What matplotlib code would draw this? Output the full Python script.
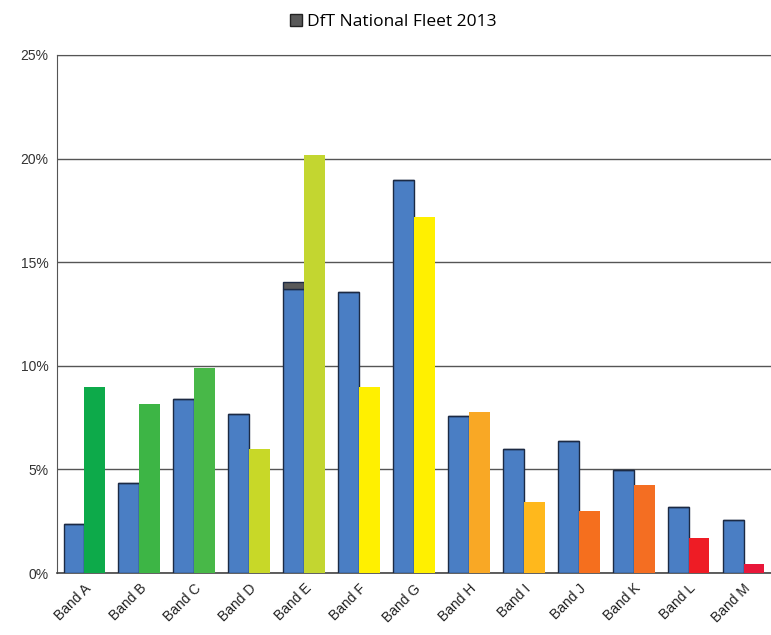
import matplotlib
matplotlib.use("Agg")
import matplotlib.pyplot as plt
import matplotlib.patches as mpatches
import numpy as np

BANDS = ["Band A", "Band B", "Band C", "Band D", "Band E", "Band F", "Band G",
         "Band H", "Band I", "Band J", "Band K", "Band L", "Band M"]
# blue series (%), with a small grey cap seen on Band E
FLEET_BLUE = [2.36, 4.34, 8.4, 7.67, 13.7, 13.56, 18.97, 7.58, 5.98, 6.37, 4.97, 3.19, 2.56]
FLEET_GREY = [0, 0, 0, 0, 0.34, 0, 0, 0, 0, 0, 0, 0, 0]
# coloured series (%)
BAND_SHARE = [9.0, 8.16, 9.9, 5.98, 20.17, 9.0, 17.18, 7.77, 3.42, 2.99, 4.25, 1.69, 0.43]
BAND_COLORS = ["#0DAA4A", "#3DB545", "#48B848", "#C8D828", "#C3D630", "#FFF000", "#FFF000",
               "#F9A825", "#FFB81C", "#F56F1E", "#F46E22", "#EE1C25", "#E8173A"]
Y_TICKS = [0, 5, 10, 15, 20, 25]

plt.rcParams["font.family"] = ["Liberation Sans", "DejaVu Sans"]

fig = plt.figure(figsize=(7.71, 6.35), dpi=100)
ax = fig.add_axes([0.0739, 0.0976, 0.9261, 0.8158])

x = np.arange(len(BANDS))
w = 0.38
ax.bar(x - w/2, FLEET_BLUE, w, color="#4A7EC4", edgecolor="#1C2A44", linewidth=1.0, zorder=3)
ax.bar(x - w/2, FLEET_GREY, w, bottom=FLEET_BLUE, color="#595959", edgecolor="#1C2A44",
       linewidth=1.0, zorder=3)
ax.bar(x + w/2, BAND_SHARE, w, color=BAND_COLORS, edgecolor="none", zorder=3)

ax.set_xlim(-0.5, len(BANDS) - 0.5)
ax.set_ylim(0, 25)
ax.set_yticks(Y_TICKS)
ax.set_yticklabels([f"{t}%" for t in Y_TICKS], fontsize=10, color="#333333")
ax.set_xticks(x)
ax.set_xticklabels(BANDS, rotation=45, ha="right", rotation_mode="anchor",
                   fontsize=10, color="#222222")
ax.tick_params(axis="both", length=0, pad=6)
ax.tick_params(axis="x", pad=6)
ax.grid(axis="y", color="#555555", linewidth=1.0, zorder=0)
ax.spines["right"].set_visible(False)
ax.spines["left"].set_color("#555555")
ax.spines["bottom"].set_color("#444444")
ax.spines["bottom"].set_linewidth(1.2)
ax.spines["top"].set_color("#555555")

handle = mpatches.Patch(facecolor="#595959", edgecolor="#222222", label="DfT National Fleet 2013")
fig.legend(handles=[handle], loc="center", bbox_to_anchor=(0.51, 0.966), frameon=False,
           handlelength=0.7, handleheight=0.7, handletextpad=0.3,
           prop={"family": ["Open Sans", "DejaVu Sans"], "size": 12.5})

fig.savefig("out.png", dpi=100)
